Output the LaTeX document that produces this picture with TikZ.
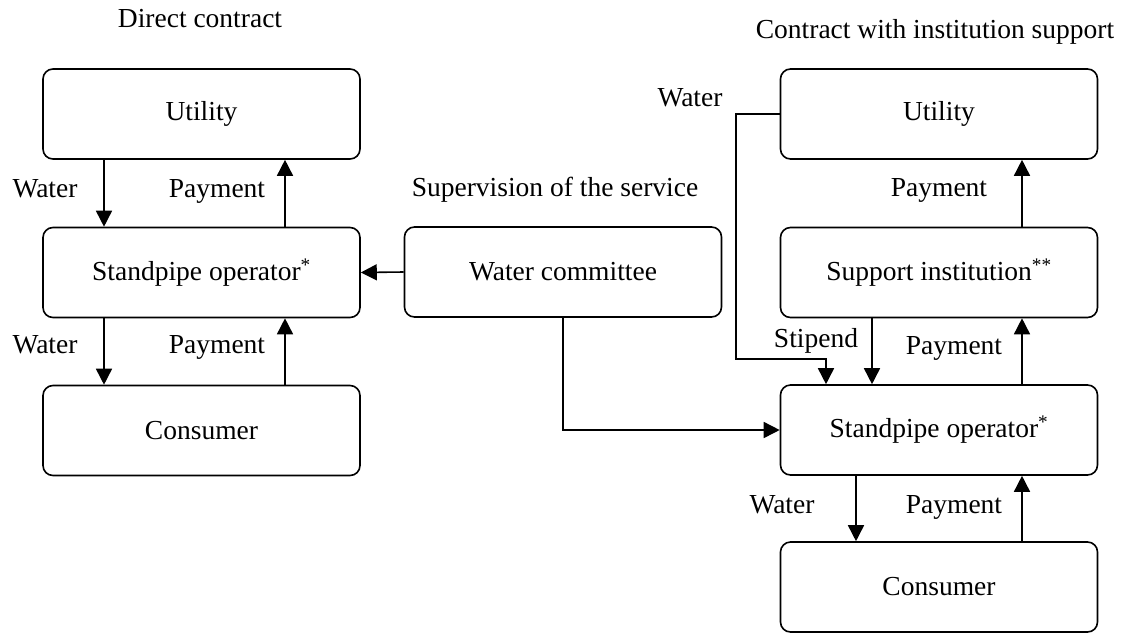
\documentclass[tikz,border=0pt]{standalone}
\usepackage{fontspec}
\setmainfont{Liberation Serif}
\usetikzlibrary{arrows.meta}

\tikzset{
  box/.style={draw, line width=1.6pt, rounded corners=10pt,
    minimum width=317pt, minimum height=90pt, inner sep=0pt},
  arr/.style={line width=1.6pt, -{Triangle[length=16pt,width=16pt]}},
  lbl/.style={anchor=base, inner sep=0pt},
  every node/.style={font=\fontsize{27.5}{33}\selectfont}
}

\begin{document}
\begin{tikzpicture}[x=1pt, y=-1pt]
  \useasboundingbox (0,0) rectangle (1130,633);

  % titles
  \node[lbl] (t1) at (200,27) {Direct contract};
  \node[lbl] (t2) at (935,38) {Contract with institution support};
  \node[lbl] (t3) at (555,196) {Supervision of the service};

  % direct contract chain
  \node[box] (utilL) at (201.5,114) {Utility};
  \node[box] (opL)   at (201.5,272.5) {Standpipe operator\textsuperscript{*}};
  \node[box] (conL)  at (201.5,430.5) {Consumer};

  % water committee
  \node[box] (comm)  at (563,272) {Water committee};

  % institution supported chain
  \node[box] (utilR) at (939,114) {Utility};
  \node[box] (supR)  at (939,272.5) {Support institution\textsuperscript{**}};
  \node[box] (opR)   at (939,430) {Standpipe operator\textsuperscript{*}};
  \node[box] (conR)  at (939,587) {Consumer};

  % left flows
  \draw[arr] (utilL.south -| 104,0) -- (opL.north -| 104,0);
  \draw[arr] (opL.north -| 285,0) -- (utilL.south -| 285,0);
  \draw[arr] (opL.south -| 104,0) -- (conL.north -| 104,0);
  \draw[arr] (conL.north -| 285,0) -- (opL.south -| 285,0);
  \node[lbl] (lw1) at (45,197) {Water};
  \node[lbl] (lp1) at (217,197) {Payment};
  \node[lbl] (lw2) at (45,353) {Water};
  \node[lbl] (lp2) at (217,353) {Payment};

  % supervision
  \draw[arr] (comm.west) -- (opL.east);
  \draw[arr] (comm.south) |- (opR.west);

  % right flows
  \coordinate (wbend) at (736,359);
  \draw[arr] (utilR.west |- 0,114) -| (wbend) -| (opR.north -| 826,0);
  \draw[arr] (supR.south -| 872,0) -- (opR.north -| 872,0);
  \draw[arr] (opR.north -| 1022,0) -- (supR.south -| 1022,0);
  \draw[arr] (supR.north -| 1022,0) -- (utilR.south -| 1022,0);
  \draw[arr] (opR.south -| 856,0) -- (conR.north -| 856,0);
  \draw[arr] (conR.north -| 1022,0) -- (opR.south -| 1022,0);
  \node[lbl] (rw0) at (690,106) {Water};
  \node[lbl] (rp0) at (939,196) {Payment};
  \node[lbl] (rs)  at (816,347) {Stipend};
  \node[lbl] (rp1) at (954,354) {Payment};
  \node[lbl] (rw2) at (782,513) {Water};
  \node[lbl] (rp2) at (954,513) {Payment};
\end{tikzpicture}
\end{document}
